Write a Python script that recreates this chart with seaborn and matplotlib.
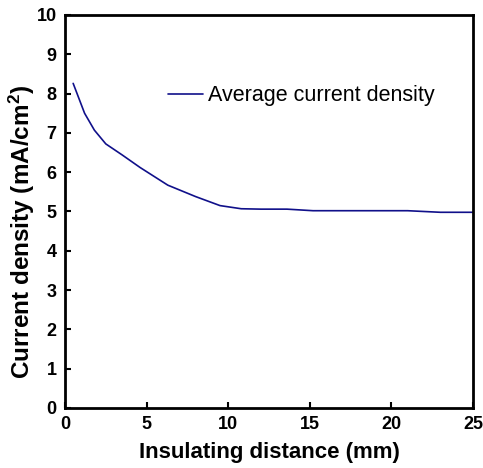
import matplotlib
matplotlib.use("Agg")
import matplotlib.pyplot as plt
import seaborn as sns
import pandas as pd

distance_mm = [0.5, 1.2, 1.8, 2.5, 3.5, 4.6, 6.3, 8.0, 9.5, 10.8, 12.0, 13.6, 15.2, 21.0, 23.0, 25.0]
current_density = [8.26, 7.5, 7.07, 6.72, 6.44, 6.12, 5.67, 5.38, 5.15, 5.07, 5.06, 5.06, 5.02, 5.02, 4.98, 4.98]
series_name = "Average current density"
x_ticks = [0, 5, 10, 15, 20, 25]
y_ticks = list(range(0, 11))

sns.set_style("ticks")
plt.rcParams['font.family'] = ['Liberation Sans', 'DejaVu Sans']
plt.rcParams['mathtext.fontset'] = 'custom'
plt.rcParams['mathtext.bf'] = 'Liberation Sans:bold'
plt.rcParams['text.color'] = 'black'
plt.rcParams['axes.labelcolor'] = 'black'

df = pd.DataFrame({"x": distance_mm, "y": current_density, "series": series_name})

fig = plt.figure(figsize=(4.83, 4.68), dpi=100)
ax = fig.add_axes([65/483, 1-408/468, 408/483, 393/468])
sns.lineplot(data=df, x="x", y="y", hue="series", palette=["#10108a"], linewidth=1.2, ax=ax, legend=True)

ax.set_xlim(0, 25)
ax.set_ylim(0, 10)
ax.set_xticks(x_ticks)
ax.set_yticks(y_ticks)
ax.tick_params(direction="in", length=4, width=1.5, labelsize=13, pad=6,
               colors="black")
for lbl in ax.get_xticklabels() + ax.get_yticklabels():
    lbl.set_fontweight("bold")
for s in ax.spines.values():
    s.set_visible(True)
    s.set_linewidth(2)
    s.set_edgecolor("black")
ax.set_xlabel("Insulating distance (mm)", fontsize=16, fontweight="bold")
ax.set_ylabel("Current density (mA/cm$\\mathbf{^2}$)", fontsize=17.5, fontweight="bold")
ax.xaxis.set_label_coords(0.5, -0.087)
ax.yaxis.set_label_coords(-0.069, 0.448)

leg = ax.legend(loc="center left", bbox_to_anchor=(0.206, 0.795), frameon=False,
                fontsize=15.5, handlelength=1.6, handletextpad=0.25)
ax.grid(False)
fig.savefig("out.png", dpi=100)
